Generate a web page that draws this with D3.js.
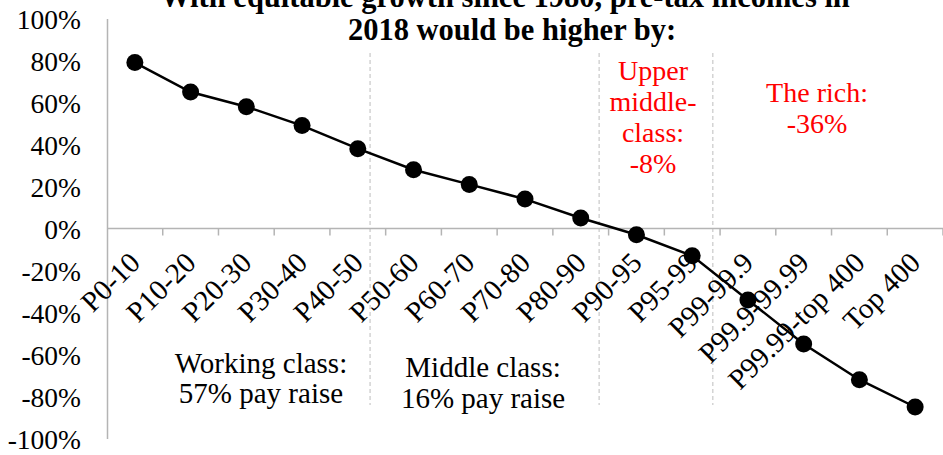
<!DOCTYPE html>
<html><head><meta charset="utf-8">
<script src="https://cdn.jsdelivr.net/npm/d3@7"></script>
<style>body{margin:0;background:#fff}svg{display:block}</style>
</head><body>
<svg id="c" width="943" height="455"></svg>
<script>
// ---- data ----
const categories = ["P0-10","P10-20","P20-30","P30-40","P40-50","P50-60","P60-70","P70-80","P80-90","P90-95","P95-99","P99-99.9","P99.9-99.99","P99.99-top 400","Top 400"];
const values = [79, 65, 58, 49, 38, 28, 21, 14, 5, -3, -13, -34, -55, -72, -85];
const yTicks = [100, 80, 60, 40, 20, 0, -20, -40, -60, -80, -100];
const titleLines = ["With equitable growth since 1980, pre-tax incomes in", "2018 would be higher by:"];
const noteWorking = ["Working class:", "57% pay raise"];
const noteMiddle = ["Middle class:", "16% pay raise"];
const noteUpper = ["Upper", "middle-", "class:", "-8%"];
const noteRich = ["The rich:", "-36%"];

// ---- layout ----
const FONT = "'Palatino Linotype','Book Antiqua',Palatino,'Liberation Serif',serif";
const svg = d3.select("#c");
const x = d3.scaleBand().domain(categories).range([107, 943]).padding(0);
const bandPos = d3.scaleLinear().domain([0, categories.length]).range([107, 943]);
const y = d3.scaleLinear().domain([-100, 100]).range([438.5, 18.5]);

// dividers (band units)
const dividers = [4.72, 8.83, 10.87];
svg.append("g").selectAll("line").data(dividers).join("line")
  .attr("x1", d => bandPos(d)).attr("x2", d => bandPos(d))
  .attr("y1", 53).attr("y2", 405)
  .attr("stroke", "#c8c8c8").attr("stroke-width", 1.2).attr("stroke-dasharray", "4,3");

// y axis
const yAxis = svg.append("g").attr("transform", "translate(107,0)")
  .call(d3.axisLeft(y).tickValues(yTicks).tickSize(0).tickPadding(26).tickFormat(d => d + "%"));
yAxis.select(".domain").attr("stroke", "#b4b4b4").attr("stroke-width", 1.5);
yAxis.selectAll("text").attr("font-family", FONT).attr("font-size", 27.5).attr("fill", "#000").attr("dy", "0.36em");

// x axis (at zero)
const xg = svg.append("g").attr("transform", `translate(0,${y(0)})`);
xg.append("line").attr("x1", 107).attr("x2", 943).attr("y1", 0).attr("y2", 0)
  .attr("stroke", "#b4b4b4").attr("stroke-width", 1.5);
xg.selectAll("line.tk").data(categories).join("line").attr("class", "tk")
  .attr("x1", d => x(d) + x.bandwidth()).attr("x2", d => x(d) + x.bandwidth())
  .attr("y1", 0).attr("y2", 7).attr("stroke", "#b4b4b4").attr("stroke-width", 1.5);
xg.selectAll("text").data(categories).join("text")
  .attr("transform", d => `translate(${x(d) + x.bandwidth() / 2 + 7},36) rotate(-45)`)
  .attr("text-anchor", "end").attr("font-family", FONT).attr("font-size", 29).attr("fill", "#000")
  .text(d => d);

// line + markers
const line = d3.line().x((d, i) => x(categories[i]) + x.bandwidth() / 2).y(d => y(d));
svg.append("path").datum(values).attr("d", line).attr("fill", "none").attr("stroke", "#000").attr("stroke-width", 2.5);
svg.append("g").selectAll("circle").data(values).join("circle")
  .attr("cx", (d, i) => x(categories[i]) + x.bandwidth() / 2).attr("cy", d => y(d))
  .attr("r", 8.5).attr("fill", "#000");

// title
svg.append("g").selectAll("text").data(titleLines).join("text")
  .attr("x", (d, i) => i === 0 ? 505 : 512).attr("y", (d, i) => 7 + i * 33)
  .attr("text-anchor", "middle").attr("font-family", FONT).attr("font-weight", "bold")
  .attr("font-size", 30.5).attr("fill", "#000").text(d => d);

// notes
function note(lines, cx, y0, step, color, size) {
  svg.append("g").selectAll("text").data(lines).join("text")
    .attr("x", cx).attr("y", (d, i) => y0 + i * step)
    .attr("text-anchor", "middle").attr("font-family", FONT).attr("font-size", size)
    .attr("fill", color).text(d => d);
}
note(noteWorking, bandPos(2.763), 373, 30, "#000", 29);
note(noteMiddle, bandPos(6.747), 377, 31, "#000", 29);
note(noteUpper, bandPos(9.797), 80, 31, "#ff0000", 28);
note(noteRich, bandPos(12.74), 102, 31, "#ff0000", 28);
</script>
</body></html>
